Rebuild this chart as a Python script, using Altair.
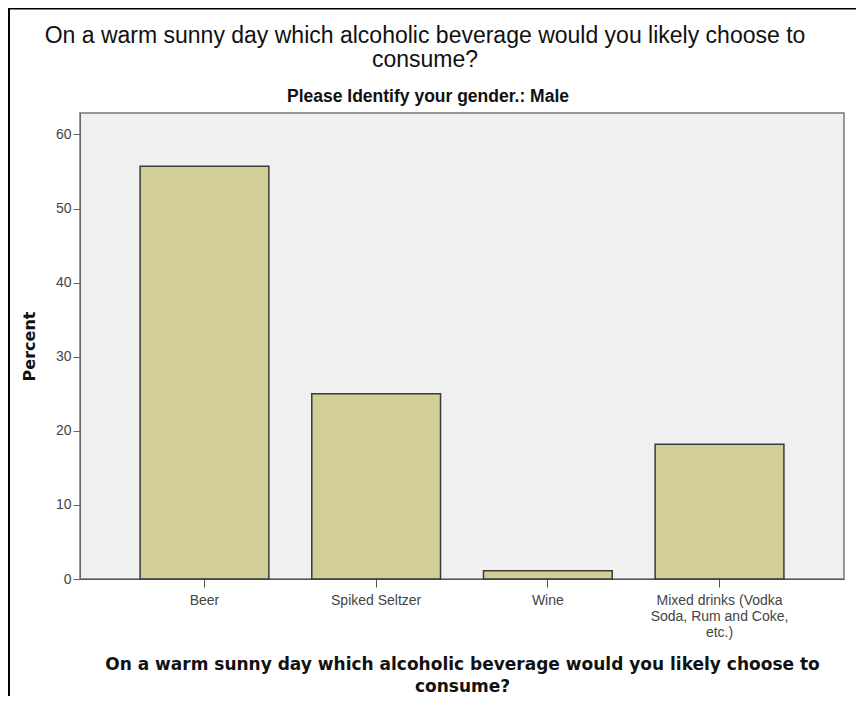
import altair as alt
import pandas as pd

categories = ["Beer", "Spiked Seltzer", "Wine", "Mixed drinks (Vodka Soda, Rum and Coke, etc.)"]
percents = [55.7, 25.0, 1.1, 18.2]
mixed_label_lines = ["Mixed drinks (Vodka", "Soda, Rum and Coke,", "etc.)"]
y_ticks = [0, 10, 20, 30, 40, 50, 60]

question = ["On a warm sunny day which alcoholic beverage would you likely choose to", "consume?"]
panel = "Please Identify your gender.: Male"

df = pd.DataFrame({"drink": categories, "percent": percents})

label_expr = (
    "datum.label == '" + categories[3] + "' ? ["
    + ", ".join("'" + s + "'" for s in mixed_label_lines)
    + "] : datum.label"
)

bars = alt.Chart(df).mark_bar(
    fill="#d3ce97", stroke="#3a3a3a", strokeWidth=1.5
).encode(
    x=alt.X(
        "drink:N",
        sort=categories,
        scale=alt.Scale(paddingInner=0.25, paddingOuter=0.35),
        axis=alt.Axis(
            title=question,
            labelAngle=0,
            labelExpr=label_expr,
            labelFont="Liberation Sans",
            labelFontSize=14,
            labelColor="#444444",
            labelLineHeight=16,
            labelPadding=6,
            labelLimit=300,
            tickSize=8,
            tickColor="#555555",
            domainColor="#555555",
            titleFont="DejaVu Sans",
            titleFontSize=17,
            titleFontWeight="bold",
            titleColor="#111111",
            titleLineHeight=22,
            titlePadding=17,
        ),
    ),
    y=alt.Y(
        "percent:Q",
        scale=alt.Scale(domain=[0, 62.9], nice=False),
        axis=alt.Axis(
            title="Percent",
            values=y_ticks,
            grid=False,
            labelFont="Liberation Sans",
            labelFontSize=14,
            labelColor="#444444",
            labelPadding=2,
            tickSize=7,
            tickColor="#666666",
            domainColor="#666666",
            titleFont="DejaVu Sans",
            titleFontSize=16,
            titleFontWeight="bold",
            titleColor="#111111",
            titlePadding=18,
        ),
    ),
)

frame_data = alt.Data(values=[{"k": 1}])
left_border = alt.Chart(frame_data).mark_rule(color="black", strokeWidth=3).encode(
    x=alt.value(-71.5), y=alt.value(-106), y2=alt.value(700)
)
top_border = alt.Chart(frame_data).mark_rule(color="black", strokeWidth=3).encode(
    x=alt.value(-74), x2=alt.value(800), y=alt.value(-105)
)
main_title = alt.Chart(frame_data).mark_text(
    font="Liberation Sans", fontSize=23, color="#111111",
    baseline="middle", align="center", lineHeight=24
).encode(
    x=alt.value(345), y=alt.value(-77), text=alt.value(question)
)
sub_title = alt.Chart(frame_data).mark_text(
    font="Liberation Sans", fontSize=17.5, fontWeight="bold", color="#111111",
    baseline="middle", align="center"
).encode(
    x=alt.value(348), y=alt.value(-16), text=alt.value(panel)
)

chart = alt.layer(bars, left_border, top_border, main_title, sub_title).properties(
    width=764,
    height=466,
    autosize=alt.AutoSizeParams(type="none"),
    padding={"left": 72, "top": 105, "right": 12, "bottom": 117},
    background="white",
).configure_view(
    fill="#f0f0f0", stroke="#777777", strokeWidth=1.5
)

chart.save("out.html", embed_options={"renderer": "svg", "actions": False})
